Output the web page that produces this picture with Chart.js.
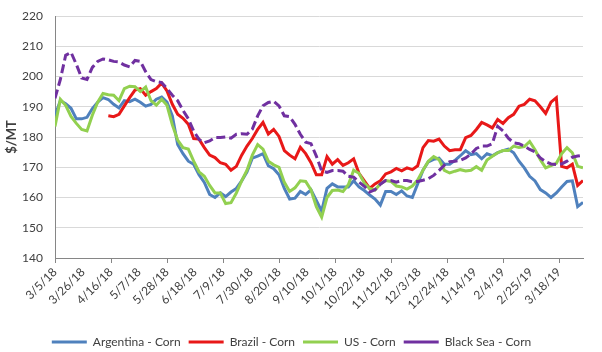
<!DOCTYPE html>
<html>
<head>
<meta charset="utf-8">
<script src="https://cdn.jsdelivr.net/npm/chart.js@4.4.1/dist/chart.umd.min.js"></script>
<style>
  html, body { margin: 0; padding: 0; background: #fff; }
  #wrap { width: 602px; height: 352px; }
</style>
</head>
<body>
<div id="wrap"><canvas id="chart" width="602" height="352"></canvas></div>
<script>
// days after 3/5/18, one sample every 4 days
const dayOffsets = [0, 4, 8, 12, 16, 20, 24, 28, 32, 36, 40, 44, 48, 52, 56, 60, 64, 68, 72, 76,
  80, 84, 88, 92, 96, 100, 104, 108, 112, 116, 120, 124, 128, 132, 136, 140, 144, 148, 152, 156,
  160, 164, 168, 172, 176, 180, 184, 188, 192, 196, 200, 204, 208, 212, 216, 220, 224, 228, 232, 236,
  240, 244, 248, 252, 256, 260, 264, 268, 272, 276, 280, 284, 288, 292, 296, 300, 304, 308, 312, 316,
  320, 324, 328, 332, 336, 340, 344, 348, 352, 356, 360, 364, 368, 372, 376, 380, 384, 388, 392, 396];

const tickLabels = ['3/5/18', '3/26/18', '4/16/18', '5/7/18', '5/28/18', '6/18/18', '7/9/18', '7/30/18',
  '8/20/18', '9/10/18', '10/1/18', '10/22/18', '11/12/18', '12/3/18', '12/24/18', '1/14/19', '2/4/19',
  '2/25/19', '3/18/19'];

const seriesNames = ['Argentina - Corn', 'Brazil - Corn', 'US - Corn', 'Black Sea - Corn'];

const argentina = [187, 192, 191, 189.5, 186, 186, 186.5, 189.4, 191.5, 193,
  192.4, 190.8, 189.6, 192, 191.7, 192.5, 191.5, 190.2, 190.8, 192.5,
  193.2, 191.5, 187, 177.5, 174.5, 172, 171, 167.5, 165, 161,
  160, 161.5, 160.3, 161.8, 163, 165.5, 168.5, 173, 173.7, 174.5,
  170.5, 169.5, 167.5, 163, 159.5, 159.8, 162, 161, 162.5, 159,
  155.5, 163, 164.5, 163.5, 163.5, 163.5, 165.5, 163.5, 162.3, 160.8,
  159.5, 157.5, 162, 162, 161, 162.2, 160.5, 160, 164.5, 169,
  171.8, 172.6, 173, 171, 171, 172.3, 173.8, 175.5, 174.2, 174.5,
  172.8, 174.5, 173.8, 174.8, 175.5, 176, 174.8, 172, 169.8, 167,
  165.5, 162.6, 161.5, 160, 161.5, 163.5, 165.3, 165.5, 157, 158.4];

const brazil = [null, null, null, null, null, null, null, null, null, null,
  187, 186.7, 187.5, 190.3, 193, 195.5, 196, 193.8, 195, 196,
  197.8, 195.2, 190.8, 187.5, 186.2, 184.2, 179.5, 179.3, 176.5, 174,
  173.2, 171.5, 171, 169, 170.3, 174, 177, 179.5, 182.5, 184.8,
  181, 182.5, 180.2, 175.5, 174, 172.8, 176.6, 174.5, 171.5, 167.5,
  167.5, 173.5, 171, 172.5, 170.6, 171.5, 172.8, 168, 165.5, 163,
  164.5, 165.5, 167.8, 168.5, 169.6, 168.8, 169.8, 169.2, 170.5, 176.5,
  178.8, 178.6, 179.3, 177, 175.5, 175.8, 175.8, 179.8, 180.5, 182.5,
  184.8, 184, 183, 185.8, 184.5, 186.4, 187.5, 190.2, 190.8, 192.5,
  192, 190, 187.8, 191.5, 193, 170.3, 169.8, 171, 164, 165.6];

const us = [183.5, 192.5, 190.5, 186.8, 184.5, 182.5, 182, 187.2, 191.5, 194.4,
  194, 193.8, 192, 196, 196.8, 196.6, 195, 196.5, 192, 190.5,
  192.5, 190.5, 184, 179, 176.5, 176, 172, 168.5, 167, 164,
  161.5, 161.5, 158, 158.3, 161.5, 165.5, 169, 174, 177.5, 176,
  172, 170.8, 170, 165, 162, 163.2, 165.5, 165.3, 162.5, 157,
  153.5, 160, 162.3, 162.5, 162, 164.2, 169, 168, 164.8, 163,
  162.5, 164.5, 165.6, 165.3, 163.8, 163.5, 162.8, 163.8, 165.8, 169,
  172, 173.5, 172.5, 169, 168.1, 168.7, 169.2, 168.8, 169, 170.2,
  169, 172.4, 173.6, 174.8, 175.5, 175.5, 177, 176.5, 176.8, 178.5,
  175.8, 172.5, 169.8, 170.5, 171.3, 174.5, 176.5, 174.8, 170.3, 169.8];

const blackSea = [192.8, 199, 207, 208, 204, 199.5, 199, 203, 205, 205.8,
  205.5, 205, 204.8, 203.8, 203.2, 205.3, 205, 201.6, 199, 198.3,
  198, 196, 193.8, 192, 188.8, 186, 182, 179.2, 178.1, 178.7,
  179.8, 179.8, 180, 179.6, 180.9, 181.1, 180.9, 182.6, 187, 190.3,
  191.4, 191.8, 190.3, 187, 186.7, 184.2, 180.9, 178.3, 177.8, 173.7,
  168.8, 168.3, 168.9, 168.9, 168.7, 167, 166.7, 165.1, 163.7, 161.8,
  162.6, 164.4, 165.6, 165.6, 165.1, 165.6, 165.6, 165.2, 165.3, 165.7,
  166.2, 167.3, 168.9, 170.7, 171.8, 172, 172.3, 173.1, 174.4, 176.2,
  177, 177, 177.8, 183.5, 182, 179.6, 178.1, 177.8, 177, 175.9,
  175.1, 173.1, 171.8, 171.1, 170.9, 171.1, 172, 173.3, 173.7, 174];

const seriesValues = [argentina, brazil, us, blackSea];
const colors = ['#4F81BD', '#E81818', '#92D050', '#7030A0'];
const drawOrder = [4, 3, 2, 1];

const textColor = '#404040';
const fontFamily = 'Lato, "Liberation Sans", sans-serif';

const datasets = seriesValues.map((vals, i) => ({
  label: seriesNames[i],
  data: vals.map((v, j) => ({ x: dayOffsets[j], y: v })),
  borderColor: colors[i],
  backgroundColor: colors[i],
  borderWidth: 3,
  borderDash: i === 3 ? [9, 4] : [],
  pointRadius: 0,
  tension: 0,
  fill: false,
  order: drawOrder[i]
}));

new Chart(document.getElementById('chart'), {
  type: 'line',
  data: { datasets: datasets },
  options: {
    responsive: false,
    animation: false,
    layout: { padding: { top: 16, right: 19, bottom: -6, left: 0 } },
    plugins: {
      legend: {
        position: 'bottom',
        labels: {
          usePointStyle: true,
          pointStyle: 'line',
          pointStyleWidth: 35,
          boxWidth: 35,
          padding: 8,
          color: textColor,
          font: { family: fontFamily, size: 12 },
          sort: (a, b) => a.datasetIndex - b.datasetIndex
        }
      },
      tooltip: { enabled: false }
    },
    scales: {
      x: {
        type: 'linear',
        min: 0,
        max: 396,
        grid: {
          drawOnChartArea: false,
          drawTicks: true,
          tickLength: 5,
          tickColor: (ctx) => (ctx.index % 2 === 0 ? '#868686' : 'rgba(0,0,0,0)')
        },
        border: { color: '#868686', width: 1 },
        ticks: {
          stepSize: 21,
          includeBounds: false,
          autoSkip: false,
          maxRotation: 45,
          minRotation: 45,
          padding: 2,
          color: textColor,
          font: { family: fontFamily, size: 12 },
          callback: (v) => tickLabels[Math.round(v / 21)]
        },
        afterFit: (scale) => { scale.height = 70; }
      },
      y: {
        min: 140,
        max: 220,
        grid: { color: '#D9D9D9', drawTicks: true, tickLength: 9, tickColor: 'rgba(0,0,0,0)' },
        border: { color: '#868686', width: 1 },
        ticks: {
          stepSize: 10,
          padding: 3,
          color: textColor,
          font: { family: fontFamily, size: 12 }
        },
        title: {
          display: true,
          text: '$/MT',
          color: textColor,
          padding: { top: 4, bottom: 2 },
          font: { family: fontFamily, size: 13, weight: 'bold' }
        },
        afterFit: (scale) => { scale.width = 55; }
      }
    }
  }
});
</script>
</body>
</html>
